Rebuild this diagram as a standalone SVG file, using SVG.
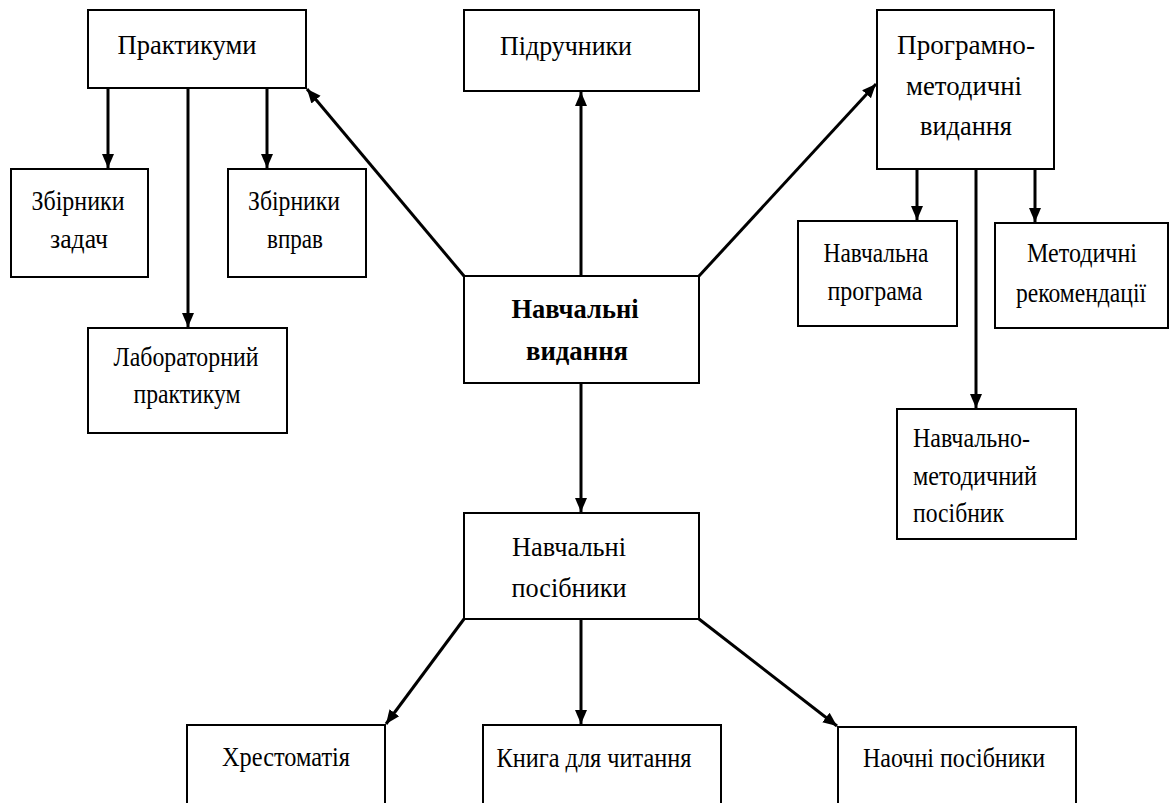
<svg xmlns="http://www.w3.org/2000/svg" width="1169" height="803" viewBox="0 0 1169 803" font-family="'Liberation Serif', 'Times New Roman', serif">
<defs>
<style>
.box{fill:#fff;stroke:#000;stroke-width:2}
.t{font-family:'Liberation Serif','Times New Roman',serif;font-size:28px;fill:#000;text-anchor:middle}
.tl{text-anchor:start}
.b{font-weight:bold}
.c{stroke:#000;stroke-width:3;fill:none;marker-end:url(#ah)}
</style>
<marker id="ah" markerUnits="userSpaceOnUse" markerWidth="14" markerHeight="14" viewBox="0 0 14 12" refX="14" refY="6" orient="auto">
<path d="M0,0 L14,6 L0,12 z" fill="#000"/>
</marker>
</defs>
<rect width="1169" height="803" fill="#fff"/>
<g id="connectors">
<line class="c" x1="581" y1="276" x2="581" y2="92"/>
<line class="c" x1="464" y1="276" x2="307" y2="89"/>
<line class="c" x1="699" y1="276" x2="876" y2="84"/>
<line class="c" x1="581" y1="383" x2="581" y2="512"/>
<line class="c" x1="108" y1="88" x2="108" y2="168"/>
<line class="c" x1="188" y1="88" x2="188" y2="327"/>
<line class="c" x1="267" y1="88" x2="267" y2="168"/>
<line class="c" x1="917" y1="169" x2="917" y2="220"/>
<line class="c" x1="1035" y1="169" x2="1035" y2="222"/>
<line class="c" x1="976" y1="169" x2="976" y2="408"/>
<line class="c" x1="464" y1="619" x2="386" y2="724"/>
<line class="c" x1="581" y1="619" x2="581" y2="724"/>
<line class="c" x1="699" y1="619" x2="837" y2="726"/>
</g>
<g id="praktykumy"><rect class="box" x="88" y="10" width="218" height="78"/>
<text class="t" x="187" y="54" textLength="139" lengthAdjust="spacingAndGlyphs">Практикуми</text></g>
<g id="pidruchnyky"><rect class="box" x="464" y="10" width="235" height="81"/>
<text class="t" x="566" y="55" textLength="132" lengthAdjust="spacingAndGlyphs">Підручники</text></g>
<g id="prohramno"><rect class="box" x="877" y="10" width="177" height="159"/>
<text class="t" x="966" y="54" textLength="138" lengthAdjust="spacingAndGlyphs">Програмно-</text>
<text class="t" x="964" y="95" textLength="116" lengthAdjust="spacingAndGlyphs">методичні</text>
<text class="t" x="966" y="135" textLength="92" lengthAdjust="spacingAndGlyphs">видання</text></g>
<g id="zbirnyky-zadach"><rect class="box" x="11" y="169" width="137" height="108"/>
<text class="t" x="78" y="210" textLength="93" lengthAdjust="spacingAndGlyphs">Збірники</text>
<text class="t" x="79" y="248" textLength="58" lengthAdjust="spacingAndGlyphs">задач</text></g>
<g id="zbirnyky-vprav"><rect class="box" x="228" y="169" width="138" height="108"/>
<text class="t" x="294" y="210" textLength="92" lengthAdjust="spacingAndGlyphs">Збірники</text>
<text class="t" x="295" y="248" textLength="56" lengthAdjust="spacingAndGlyphs">вправ</text></g>
<g id="laboratornyi"><rect class="box" x="88" y="328" width="199" height="105"/>
<text class="t" x="186" y="366" textLength="145" lengthAdjust="spacingAndGlyphs">Лабораторний</text>
<text class="t" x="187" y="403" textLength="107" lengthAdjust="spacingAndGlyphs">практикум</text></g>
<g id="navchalni-vydannia"><rect class="box" x="464" y="276" width="235" height="107"/>
<text class="t b" x="575" y="318" textLength="127" lengthAdjust="spacingAndGlyphs">Навчальні</text>
<text class="t b" x="577" y="360" textLength="102" lengthAdjust="spacingAndGlyphs">видання</text></g>
<g id="navchalna-prohrama"><rect class="box" x="798" y="221" width="159" height="105"/>
<text class="t" x="876" y="262" textLength="105" lengthAdjust="spacingAndGlyphs">Навчальна</text>
<text class="t" x="875" y="300" textLength="95" lengthAdjust="spacingAndGlyphs">програма</text></g>
<g id="metodychni-rekomendatsii"><rect class="box" x="995" y="223" width="173" height="105"/>
<text class="t" x="1082" y="262" textLength="110" lengthAdjust="spacingAndGlyphs">Методичні</text>
<text class="t" x="1081" y="302" textLength="130" lengthAdjust="spacingAndGlyphs">рекомендації</text></g>
<g id="navchalno-metodychnyi"><rect class="box" x="897" y="409" width="179" height="130"/>
<text class="t tl" x="913" y="447" textLength="117" lengthAdjust="spacingAndGlyphs">Навчально-</text>
<text class="t tl" x="913" y="485" textLength="124" lengthAdjust="spacingAndGlyphs">методичний</text>
<text class="t tl" x="913" y="522" textLength="91" lengthAdjust="spacingAndGlyphs">посібник</text></g>
<g id="navchalni-posibnyky"><rect class="box" x="464" y="513" width="235" height="106"/>
<text class="t" x="569" y="556" textLength="114" lengthAdjust="spacingAndGlyphs">Навчальні</text>
<text class="t" x="569" y="597" textLength="115" lengthAdjust="spacingAndGlyphs">посібники</text></g>
<g id="khrestomatiia"><rect class="box" x="187" y="725" width="198" height="90"/>
<text class="t" x="286" y="766" textLength="128" lengthAdjust="spacingAndGlyphs">Хрестоматія</text></g>
<g id="knyha"><rect class="box" x="483" y="725" width="238" height="90"/>
<text class="t" x="594" y="767" textLength="195" lengthAdjust="spacingAndGlyphs">Книга для читання</text></g>
<g id="naochni"><rect class="box" x="838" y="727" width="238" height="90"/>
<text class="t" x="954" y="767" textLength="182" lengthAdjust="spacingAndGlyphs">Наочні посібники</text></g>
</svg>
